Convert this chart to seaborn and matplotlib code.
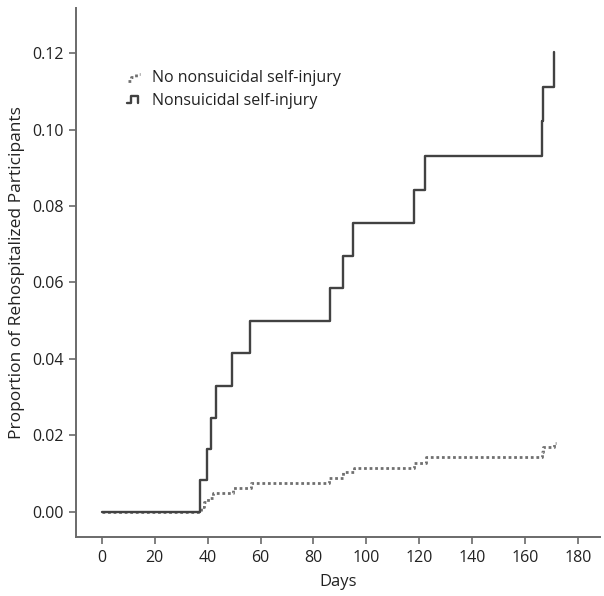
import matplotlib
matplotlib.use("Agg")
import matplotlib.pyplot as plt
import seaborn as sns
import pandas as pd
from matplotlib.legend_handler import HandlerBase
from matplotlib.lines import Line2D

# ---- data ----
nssi_days = [0, 37.1, 39.8, 41.2, 43.1, 49.2, 56.2, 86.2, 91.3, 95.0,
             118.1, 122.2, 166.3, 166.9, 171.1, 171.1]
nssi_prop = [0.0, 0.0082, 0.0163, 0.0245, 0.0330, 0.0415, 0.0500, 0.0585,
             0.0670, 0.0755, 0.0841, 0.0932, 0.1023, 0.1112, 0.1204, 0.1204]

no_nssi_days = [0, 37.6, 38.8, 40.0, 42.0, 49.4, 56.4, 86.0, 91.3, 95.3,
                118.1, 122.5, 166.3, 167.0, 171.0, 171.7]
no_nssi_prop = [0.0, 0.0012, 0.0025, 0.0037, 0.0049, 0.0063, 0.0075, 0.0089,
                0.0103, 0.0115, 0.0128, 0.0142, 0.0156, 0.0170, 0.0181, 0.0181]

labels = ["No nonsuicidal self-injury", "Nonsuicidal self-injury"]
x_ticks = [0, 20, 40, 60, 80, 100, 120, 140, 160, 180]
y_ticks = [0.00, 0.02, 0.04, 0.06, 0.08, 0.10, 0.12]

df_no = pd.DataFrame({"Days": no_nssi_days, "Prop": no_nssi_prop})
df_yes = pd.DataFrame({"Days": nssi_days, "Prop": nssi_prop})

sns.set_theme(style="ticks")
plt.rcParams["font.family"] = ["Open Sans", "DejaVu Sans"]

fig = plt.figure(figsize=(6.04, 5.96), dpi=100)
ax = fig.add_axes([76 / 604, 1 - 537.3 / 596, 524 / 604, 529.3 / 596])

sns.lineplot(data=df_no, x="Days", y="Prop", ax=ax, drawstyle="steps-post",
             color="#707070", linewidth=2.0, linestyle=(0, (1.0, 1.0)),
             estimator=None, sort=False)
sns.lineplot(data=df_yes, x="Days", y="Prop", ax=ax, drawstyle="steps-post",
             color="#424242", linewidth=1.7, estimator=None, sort=False)

ax.set_xlim(-9.8, 188.4)
ax.set_ylim(-0.0067, 0.1318)
ax.set_xticks(x_ticks)
ax.set_xticklabels([str(t) for t in x_ticks])
ax.set_yticks(y_ticks)
ax.set_yticklabels([f"{t:.2f}" for t in y_ticks])

for s in ["top", "right"]:
    ax.spines[s].set_visible(False)
for s in ["left", "bottom"]:
    ax.spines[s].set_color("#6a6a6a")
    ax.spines[s].set_linewidth(1.4)
ax.tick_params(axis="both", direction="out", length=5, width=1.2,
               color="#6a6a6a", labelsize=11.5, labelcolor="#222222")
ax.tick_params(axis="x", pad=4)
ax.tick_params(axis="y", pad=4)

ax.set_xlabel("Days", fontsize=12, color="#222222", labelpad=6)
ax.set_ylabel("Proportion of Rehospitalized Participants", fontsize=12.5,
              color="#222222", labelpad=5)


class StepHandler(HandlerBase):
    def __init__(self, dotted):
        super().__init__()
        self.dotted = dotted

    def create_artists(self, legend, orig_handle, xdescent, ydescent,
                       width, height, fontsize, trans):
        w, h = width, height
        if self.dotted:
            xs = [0.15 * w, 0.35 * w, 0.35 * w, 0.6 * w, 0.6 * w, 0.85 * w]
            ys = [0.1 * h, 0.1 * h, 0.45 * h, 0.45 * h, 0.8 * h, 0.8 * h]
            ln = Line2D(xs, ys, color="#707070", linewidth=2.0,
                        linestyle=(0, (1.0, 1.2)))
        else:
            xs = [0.1 * w, 0.35 * w, 0.35 * w, 0.75 * w, 0.75 * w]
            ys = [0.15 * h, 0.15 * h, 0.85 * h, 0.85 * h, 0.15 * h]
            ln = Line2D(xs, ys, color="#424242", linewidth=1.7)
        ln.set_transform(trans)
        return [ln]


h_no = Line2D([], [])
h_yes = Line2D([], [])
leg = ax.legend([h_no, h_yes], labels, loc="upper left",
                bbox_to_anchor=(0.094, 0.882), frameon=False, fontsize=11.5,
                borderpad=0, borderaxespad=0,
                handlelength=1.1, handletextpad=0.55, labelspacing=0.42,
                handler_map={h_no: StepHandler(True), h_yes: StepHandler(False)})
for t in leg.get_texts():
    t.set_color("#222222")

fig.savefig("out.png", dpi=100)
